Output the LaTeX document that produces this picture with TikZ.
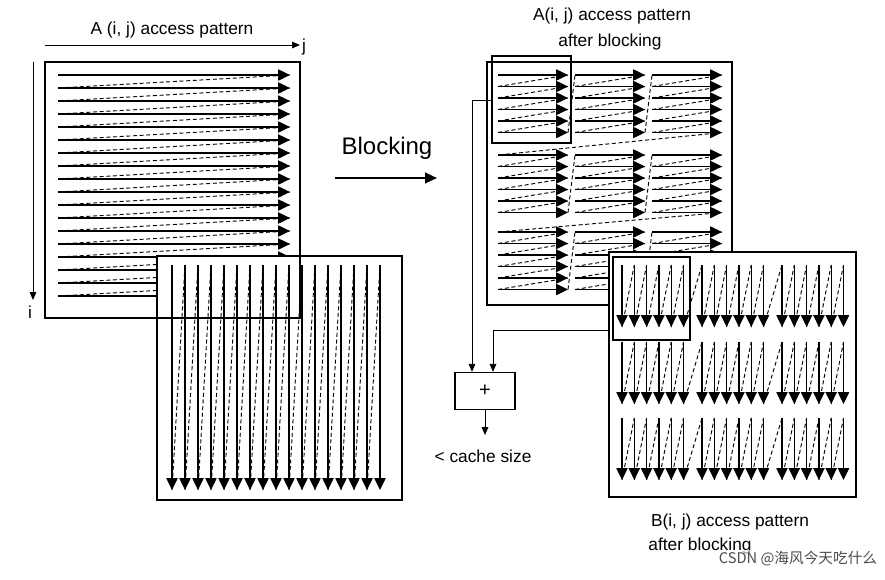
\documentclass[tikz,border=0pt]{standalone}
\usepackage{fontspec}
\setmainfont{Liberation Sans}
\newfontfamily\cjk{Noto Sans CJK SC}
\usetikzlibrary{arrows.meta}
\begin{document}
\begin{tikzpicture}[x=0.75pt,y=-0.75pt,
  ar/.style={line width=1pt,-{Triangle[length=9pt,width=8.5pt]}},
  sa/.style={line width=0.7pt,-{Triangle[length=6pt,width=5pt]}},
  rt/.style={densely dashed,line width=0.7pt},
  box/.style={draw,line width=0.8pt},
  hbox/.style={draw,line width=1.8pt},
  lab/.style={font=\fontsize{13}{15}\selectfont}]
\useasboundingbox (0,0) rectangle (885,579);
% left A
\draw[box] (45,62) rectangle (300,318);
\coordinate (j0) at (45,45); \coordinate (j1) at (300,45);
\draw[sa] (j0) -- (j1);
\node[lab] (jl) at (304,47) {j};
\node[lab] (Al) at (172,30) {A (i, j) access pattern};
\coordinate (i0) at (33,62); \coordinate (i1) at (33,300);
\draw[sa] (i0) -- (i1);
\node[lab] (il) at (30,312) {i};
\foreach \k in {0,...,17}{
  \pgfmathsetmacro\y{75+13*\k}
  \draw[ar] (58,\y) -- (290,\y);
  \ifnum\k<17 \draw[rt] (290,\y) -- (58,\y+13); \fi
}
% left B
\fill[white] (157,256) rectangle (402,500);
\draw[box] (157,256) rectangle (402,500);
\draw[box] (45,62) -- (45,318) -- (157,318);
\draw[line width=1.2pt] (157,256) rectangle (300,318);
\foreach \k in {0,...,16}{
  \pgfmathsetmacro\x{172+13*\k}
  \draw[ar] (\x,265) -- (\x,490);
  \ifnum\k<16 \draw[rt] (\x,490) -- (\x+13,265); \fi
}
% blocking arrow
\coordinate (b0) at (335,178); \coordinate (b1) at (437,178);
\draw[line width=1.6pt,-{Triangle[length=9pt,width=8pt]}] (b0) -- (b1);
\node[font=\fontsize{18}{21}\selectfont] (bl) at (387,148) {Blocking};
% right A
\node[lab] (Ar1) at (612,16) {A(i, j) access pattern};
\node[lab] (Ar2) at (610,42) {after blocking};
\draw[box] (487,62) rectangle (732,305);
\foreach \bj/\xa in {0/498,1/575,2/652}{
 \foreach \bi/\ya in {0/75,1/155,2/232}{
  \foreach \k in {0,...,5}{
   \pgfmathsetmacro\y{\ya+11.5*\k}
   \draw[ar] (\xa,\y) -- (\xa+70,\y);
   \ifnum\k<5 \draw[rt] (\xa+70,\y) -- (\xa,\y+11.5); \fi
  }
  \ifnum\bj<2 \draw[rt] (\xa+70,\ya+57.5) -- (\xa+77,\ya); \fi
 }
}
\draw[rt] (722,132.5) -- (498,155);
\draw[rt] (722,212.5) -- (498,232);
\draw[hbox] (492,56) rectangle (571,143);
% right B
\fill[white] (609,252) rectangle (856,497);
\draw[box] (609,252) rectangle (856,497);
\foreach \bj/\xa in {0/622,1/702,2/782}{
 \foreach \bi/\ya in {0/265,1/342,2/418}{
  \foreach \k in {0,...,5}{
   \pgfmathsetmacro\x{\xa+12.3*\k}
   \draw[ar] (\x,\ya) -- (\x,\ya+62);
   \ifnum\k<5 \draw[rt] (\x,\ya+62) -- (\x+12.3,\ya); \fi
  }
  \ifnum\bj<2 \draw[rt] (\xa+61.5,\ya+62) -- (\xa+80,\ya); \fi
 }
}
\draw[hbox] (613,257) rectangle (690,340);
\node[lab] (Bl1) at (730,522) {B(i, j) access pattern};
\node[lab] (Bl2) at (700,546) {after blocking};
% adder
\node[box,minimum width=45pt,minimum height=28pt,inner sep=0,font=\fontsize{15}{17}\selectfont] (add) at (485,391) {+};
\coordinate (ha) at (492,100); \coordinate (hb) at (609,330);
\draw[sa] (ha) -| (add.north west -| 472,0);
\draw[sa] (hb) -| (add.north east -| 493,0);
\coordinate (cs) at (485,435);
\draw[sa] (add) -- (cs);
\node[lab] (csl) at (483,456) {< cache size};
\node[font=\cjk\fontsize{11}{13}\selectfont,text=black!70,fill=white,fill opacity=0.6,text opacity=1,inner sep=1pt] (wm) at (798,559) {CSDN @海风今天吃什么};
\end{tikzpicture}
\end{document}
